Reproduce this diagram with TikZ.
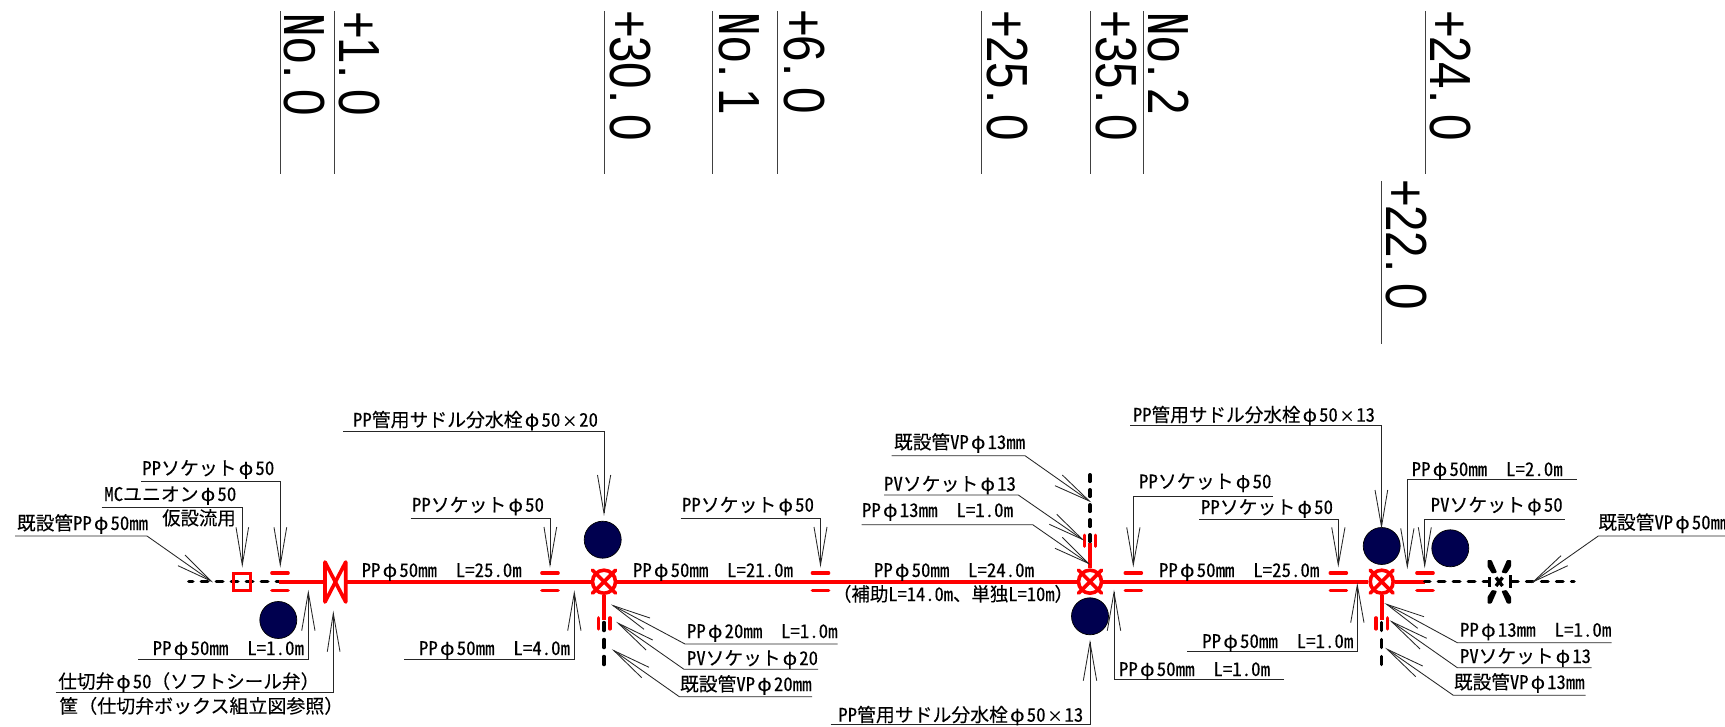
\documentclass[tikz,border=0pt]{standalone}
\usepackage{fontspec}
\usepackage{graphicx}
\newfontfamily\jp[RawFeature=+hwid,FakeBold=0.12]{Noto Sans CJK JP}
\newfontfamily\jpz[FakeBold=0.12]{Noto Sans CJK JP}
\newfontfamily\arl{Liberation Sans}
\newcommand\ph{\makebox[1em][c]{\jpz φ}}
\newcommand\tm{\makebox[1em][c]{\scalebox{.8}{×}}}
\newcommand\fw[1]{{\jpz #1}}
% monospaced cells for the station labels
\newcommand\cellw{31.7pt}
\def\monocell#1{\ifx#1.\makebox[\cellw][l]{\hspace{2pt}#1}\else\makebox[\cellw][c]{#1}\fi}
\def\monoloop#1{\ifx#1\relax\else\monocell{#1}\expandafter\monoloop\fi}
\newcommand\mono[1]{\monoloop#1\relax}
\newcommand\NN{\makebox[\cellw][c]{\scalebox{.62}[1]{\bfseries N}}}
\definecolor{navyc}{HTML}{00004F}
\tikzset{
 lead/.style={line width=.85pt,draw=black!85},
 lab/.style={inner sep=0pt,outer sep=0pt,font=\jp\fontsize{18.8}{20}\selectfont,text=black},
 sta/.style={inner sep=0pt,outer sep=0pt,rotate=-90,anchor=base west,font=\arl\fontsize{58}{60}\selectfont},
 staline/.style={line width=1pt,draw=black!75},
 pipe/.style={line width=3.6pt,draw=red},
 sockmark/.style={line width=3.2pt,draw=red,line cap=round},
 olddash/.style={line width=3.5pt,draw=black,line cap=round,dash pattern=on 6.5pt off 8.5pt},
 oldv/.style={line width=3.5pt,draw=black,line cap=round,dash pattern=on 8pt off 9pt},
 tree/.style={circle,inner sep=0pt,minimum size=37pt,draw=black,line width=.7pt,fill=navyc},
}
% label: name, x, baseline, width, text
\newcommand\lbl[5]{\node[lab,anchor=base west] (#1) at (#2,#3) {\resizebox{#4pt}{\height}{#5}};}
% leader: name, start x, under x, under y, tip x, tip y, barb1, barb2
\newcommand\ldr[8]{%
 \coordinate (#1a) at (#2,#4);\coordinate (#1b) at (#3,#4);\coordinate (#1t) at (#5,#6);
 \coordinate (#1p) at (#7);\coordinate (#1q) at (#8);
 \draw[lead] (#1a) -- (#1b) -- (#1t);
 \draw[lead] (#1p) -- (#1t) -- (#1q);}
% horizontal socket: name, centre x
\newcommand\hsock[2]{\coordinate (#1) at (#2,581.7);
 \draw[sockmark] ([shift={(-8.2,-8.7)}]#1) -- ([shift={(8.2,-8.7)}]#1);
 \draw[sockmark] ([shift={(-8.2,8.9)}]#1) -- ([shift={(8.2,8.9)}]#1);}
\newcommand\vsock[3]{\coordinate (#1) at (#2,#3);
 \draw[sockmark] ([shift={(-5.7,-5.6)}]#1) -- ([shift={(-5.7,5.6)}]#1);
 \draw[sockmark] ([shift={(5.7,-5.6)}]#1) -- ([shift={(5.7,5.6)}]#1);}
\newcommand\sval[2]{\node[circle,draw=red,line width=3.6pt,minimum size=23pt,inner sep=0pt] (#1) at (#2,581.7) {};
 \draw[pipe,line cap=round] ([shift={(-11.5,-11.5)}]#1.center) -- ([shift={(11.5,11.5)}]#1.center);
 \draw[pipe,line cap=round] ([shift={(-11.5,11.5)}]#1.center) -- ([shift={(11.5,-11.5)}]#1.center);}
\begin{document}
\begin{tikzpicture}[x=1pt,y=-1pt]
\useasboundingbox (0,0) rectangle (1725,727);
\clip (0,0) rectangle (1725,727);
\fill[white] (0,0) rectangle (1725,727);
% station lines and labels
\foreach \n/\x in {a/280,b/334.5,c/604.4,d/712,e/777,f/981.5,g/1090,h/1143.5,i/1425}{
 \coordinate (s\n t) at (\x,11);\coordinate (s\n b) at (\x,174);
 \draw[staline] (s\n t) -- (s\n b);}
\coordinate (sjt) at (1381,181);\coordinate (sjb) at (1381,344);
\draw[staline] (sjt) -- (sjb);
\node[sta] (n0) at (284.5,12) {\scalebox{.82}[1]{\NN\mono{o.0}}};
\node[sta] (p1) at (339.5,12) {\scalebox{.82}[1]{\mono{+1.0}}};
\node[sta] (p30) at (610,11) {\scalebox{.82}[1]{\mono{+30.0}}};
\node[sta] (n1) at (719,11) {\scalebox{.82}[1]{\NN\mono{o.1}}};
\node[sta] (p6) at (784,10) {\scalebox{.82}[1]{\mono{+6.0}}};
\node[sta] (p25) at (987,11) {\scalebox{.82}[1]{\mono{+25.0}}};
\node[sta] (p35) at (1096,11) {\scalebox{.82}[1]{\mono{+35.0}}};
\node[sta] (n2) at (1148.5,11) {\scalebox{.82}[1]{\NN\mono{o.2}}};
\node[sta] (p24) at (1430.5,11) {\scalebox{.82}[1]{\mono{+24.0}}};
\node[sta] (p22) at (1386.5,180) {\scalebox{.82}[1]{\mono{+22.0}}};
% existing pipe left
\coordinate (L0) at (188.8,581.7);\coordinate (L1) at (279,581.7);
\draw[olddash,dash phase=2.5pt] (L0) -- (L1);
% fittings
\node[draw=red,line width=3pt,minimum size=17pt,inner sep=0pt] (sq) at (242,582.2) {};
\coordinate (V1a) at (325,581.7);\coordinate (V1b) at (345.7,581.7);
\draw[pipe] (L1) -- (V1a);
\draw[pipe,line join=round] (325,562) -- (325,602) -- (345.7,562) -- (345.7,602) -- cycle;
\sval{v1}{604}\sval{v2}{1090}\sval{v3}{1381.7}
\draw[pipe] (V1b) -- (v1);
\draw[pipe] (v1) -- (v2);
\draw[pipe] (v2) -- (v3);
\coordinate (R0) at (1424.8,581.7);\coordinate (R1) at (1488,581.7);
\draw[pipe] (v3) -- (R0);
\draw[olddash,dash phase=1.5pt] (R0) -- (R1);
\hsock{s0}{280}\hsock{s1}{550}\hsock{s2}{820.5}\hsock{s3}{1133.3}\hsock{s4}{1338.3}\hsock{s5}{1425}
% branches
\coordinate (b1a) at (604,620);\coordinate (b1b) at (604,622.5);\coordinate (b1c) at (604,665);
\draw[pipe] (v1) -- (b1a);
\draw[oldv] (b1b) -- (b1c);
\vsock{bs1}{604.3}{623.4}
\coordinate (b2a) at (1090,543);\coordinate (b2b) at (1090,541.3);\coordinate (b2c) at (1090,474.8);
\draw[pipe] (v2) -- (b2a);
\draw[olddash] (b2b) -- (b2c);
\vsock{bs2}{1090}{540.7}
\coordinate (b3a) at (1381.7,620);\coordinate (b3b) at (1381.7,622.5);\coordinate (b3c) at (1381.7,665);
\draw[pipe] (v3) -- (b3a);
\draw[oldv] (b3b) -- (b3c);
\vsock{bs3}{1381.7}{623.4}
% existing valve right, broken outline
\coordinate (V2) at (1499.3,581.7);\coordinate (R2) at (1511.5,581.7);\coordinate (R3) at (1574,581.7);
\fill[black,rounded corners=.8pt] (1487.5,560) -- (1491.5,560) -- (1497,572.5) -- (1492,573.5) -- (1487.5,566.5) -- cycle;
\fill[black,rounded corners=.8pt] (1511,560) -- (1507,560) -- (1501.5,572.5) -- (1506.5,573.5) -- (1511,566.5) -- cycle;
\fill[black,rounded corners=.8pt] (1487.5,603.5) -- (1491.5,603.5) -- (1497,591) -- (1492,590) -- (1487.5,597) -- cycle;
\fill[black,rounded corners=.8pt] (1511,603.5) -- (1507,603.5) -- (1501.5,591) -- (1506.5,590) -- (1511,597) -- cycle;
\draw[line width=3.4pt] (1496,577.5) -- (1502.5,586);
\draw[line width=3.4pt] (1502.5,577.5) -- (1496,586);
\draw[line width=3pt] (1489.5,577) -- (1489.5,587);
\draw[line width=3pt] (1510,575) -- (1510,588);
\draw[olddash] (R2) -- (R3);
% trees
\node[tree] (c1) at (278.3,620) {};
\node[tree] (c2) at (602.7,539.7) {};
\node[tree] (c3) at (1090,616.3) {};
\node[tree] (c4) at (1381.7,546) {};
\node[tree] (c5) at (1450.3,548.3) {};
% leaders
\ldr{A}{15}{147}{536}{211}{581}{185,555}{178,565.7}
\ldr{B}{101.7}{242.3}{507.7}{242.3}{565}{236,527.3}{248.6,527.3}
\ldr{C}{141}{280.3}{481.7}{280.3}{565}{274,527.3}{286.7,527.3}
\ldr{D}{138.3}{308.3}{659}{308.3}{592.3}{301.7,630.7}{315,630.7}
\ldr{E}{55.7}{333.3}{692.7}{333.3}{613.3}{327.3,651.7}{340,651.7}
\ldr{F}{410.7}{550}{518.7}{550}{565}{544,527}{556.7,527}
\ldr{G}{343}{604}{431.7}{604}{513.3}{597.5,475}{610.7,475}
\ldr{H}{404}{574.3}{659}{574.3}{592.7}{567.7,630.7}{581,630.7}
\ldr{I}{680.7}{820.5}{518.7}{820.5}{565}{814,527}{827,527}
\ldr{J}{837.7}{685}{644}{613.3}{605.7}{650,618}{644,629.3}
\ldr{K}{818}{684}{669.3}{618.3}{623.3}{652.7,640}{646,650}
\ldr{M}{812}{679.3}{696.7}{614}{650.7}{649,667.3}{641.7,677.7}
\ldr{N}{891.7}{1025}{455.7}{1089.3}{501}{1062.3,475}{1055,485.7}
\ldr{O}{884}{1018.3}{495}{1082.3}{539.3}{1056.7,514.3}{1049.3,524.3}
\ldr{P}{861.7}{1032.7}{524.7}{1088.3}{563.3}{1062.3,537.3}{1055,548.3}
\ldr{Q}{1272.7}{1133.3}{496}{1133.3}{565}{1126.7,527.3}{1140,527.3}
\ldr{R}{1199.3}{1338.3}{519}{1338.3}{565}{1331.7,527.3}{1345,527.3}
\ldr{S}{1284}{1114}{679}{1114}{592.3}{1107.3,630.7}{1120.7,630.7}
\ldr{T}{830.6}{1090}{724.3}{1090}{642.3}{1083.3,680.7}{1096.7,680.7}
\ldr{U}{1187.3}{1357.3}{651.7}{1357.3}{585}{1350.7,622.7}{1364,622.7}
\ldr{W}{1130}{1381.5}{425.7}{1381.5}{526.7}{1375,490}{1387.7,490}
\ldr{X}{1576.7}{1407.3}{479}{1407.3}{566.7}{1400.7,528.3}{1414,528.3}
\ldr{Y}{1564.7}{1424.7}{519}{1424.7}{565.7}{1418.3,527.3}{1431.3,527.3}
\ldr{Z}{1725}{1598.3}{536}{1533.3}{581.7}{1561,555.7}{1567.7,565.7}
\ldr{AA}{1611.7}{1457.3}{642.7}{1386.7}{604.3}{1424,616.7}{1417.7,628.3}
\ldr{AB}{1591.7}{1457.3}{667.7}{1391.7}{621.7}{1426.7,638.3}{1420,649}
\ldr{AC}{1585.7}{1453.3}{695.3}{1387.3}{649.3}{1422.7,666}{1415.7,676.7}
% labels
\lbl{ta}{17}{530}{131}{既設管PP\ph 50mm}
\lbl{tb}{104.3}{501}{132}{MCユニオン\ph 50}
\lbl{tb2}{162.3}{525}{73.4}{仮設流用}
\lbl{tc}{142.3}{475}{132}{PPソケット\ph 50}
\lbl{td}{152.7}{655}{151.3}{PP\ph 50mm\hspace{1em}L=1.0m}
\lbl{te}{58.3}{688.3}{261}{仕切弁\ph 50\fw{（}ソフトシール弁\fw{）}}
\lbl{te2}{59.3}{713}{284}{筐\fw{（}仕切弁ボックス組立図参照\fw{）}}
\lbl{tf}{412}{511.7}{132}{PPソケット\ph 50}
\lbl{tg}{353}{426.7}{245}{PP管用サドル分水栓\ph 50\tm 20}
\lbl{th}{419}{655}{151}{PP\ph 50mm\hspace{1em}L=4.0m}
\lbl{ti}{682}{511.7}{132}{PPソケット\ph 50}
\lbl{tj}{687}{638}{150.5}{PP\ph 20mm\hspace{1em}L=1.0m}
\lbl{tk}{687}{665}{131}{PVソケット\ph 20}
\lbl{tm}{680}{691}{131.5}{既設管VP\ph 20mm}
\lbl{tn}{894}{449}{131}{既設管VP\ph 13mm}
\lbl{to}{884}{490.7}{132}{PVソケット\ph 13}
\lbl{tp}{862}{517}{151}{PP\ph 13mm\hspace{1em}L=1.0m}
\lbl{tq}{1139}{488.3}{132.5}{PPソケット\ph 50}
\lbl{tr}{1201}{514}{132}{PPソケット\ph 50}
\lbl{ts}{1119}{676}{151}{PP\ph 50mm\hspace{1em}L=1.0m}
\lbl{tt}{838.3}{721.7}{245}{PP管用サドル分水栓\ph 50\tm 13}
\lbl{tu}{1202.3}{648}{151}{PP\ph 50mm\hspace{1em}L=1.0m}
\lbl{tw}{1133}{421.7}{242}{PP管用サドル分水栓\ph 50\tm 13}
\lbl{tx}{1411.7}{476}{151}{PP\ph 50mm\hspace{1em}L=2.0m}
\lbl{ty}{1430.7}{511.7}{132}{PVソケット\ph 50}
\lbl{tz}{1598.3}{529.3}{131}{既設管VP\ph 50mm}
\lbl{taa}{1460}{636.7}{151.3}{PP\ph 13mm\hspace{1em}L=1.0m}
\lbl{tab}{1460}{663}{131}{PVソケット\ph 13}
\lbl{tac}{1454}{689}{130.5}{既設管VP\ph 13mm}
% pipe length labels
\lbl{l1}{361.7}{577}{160}{PP\ph 50mm\hspace{1em}L=25.0m}
\lbl{l2}{633}{577}{160}{PP\ph 50mm\hspace{1em}L=21.0m}
\lbl{l3}{874}{577}{160}{PP\ph 50mm\hspace{1em}L=24.0m}
\lbl{l3b}{833}{601}{240}{\fw{（}補助L=14.0m\fw{、}単独L=10m\fw{）}}
\lbl{l4}{1159}{577}{160.3}{PP\ph 50mm\hspace{1em}L=25.0m}
\end{tikzpicture}
\end{document}
